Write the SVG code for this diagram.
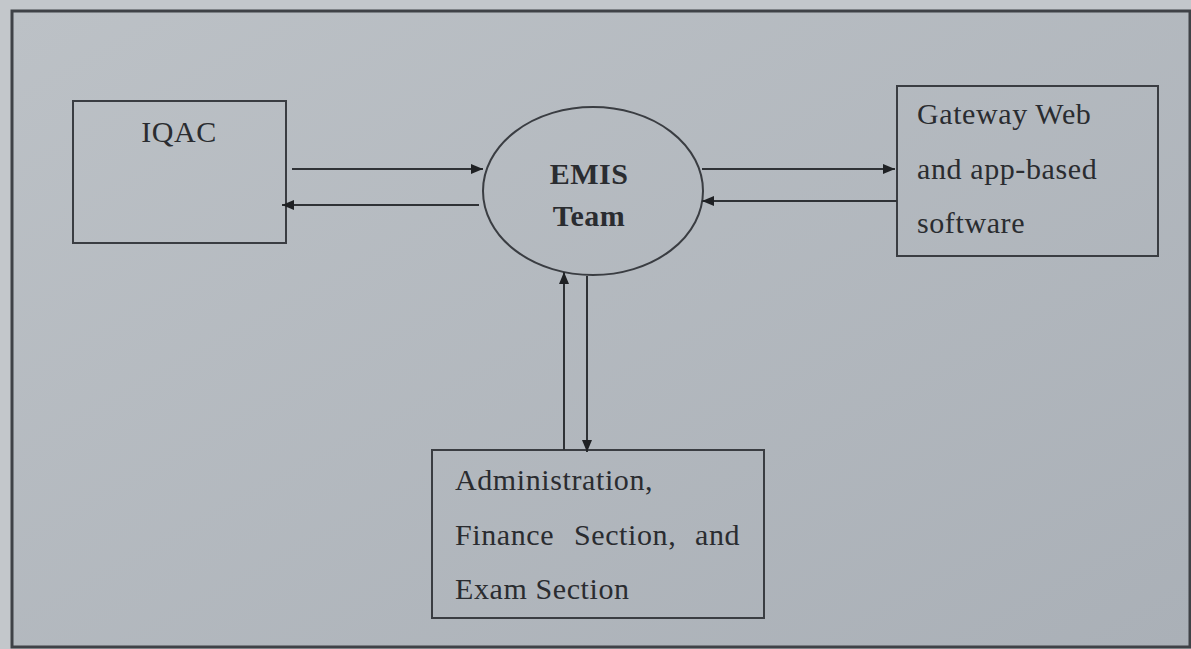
<svg xmlns="http://www.w3.org/2000/svg" width="1191" height="649" viewBox="0 0 1191 649">
<style>
.bx{fill:none;stroke:#3a3d42;stroke-width:2}
.ln{fill:none;stroke:#2f3236;stroke-width:2}
.t{font-family:"Liberation Serif","Times New Roman",serif;font-size:30px;fill:#2a2c30;letter-spacing:0.6px}
.b{font-weight:bold;font-size:30px;text-anchor:middle;letter-spacing:0.5px}
</style>
<defs>
<marker id="ah" viewBox="0 0 12 10" refX="12" refY="5" markerWidth="12" markerHeight="10" markerUnits="userSpaceOnUse" orient="auto"><path d="M0,0 L12,5 L0,10 z" fill="#1f2124"/></marker>
<linearGradient id="bg" x1="0" y1="0" x2="1" y2="1"><stop offset="0" stop-color="#bcc1c6"/><stop offset="1" stop-color="#aab0b7"/></linearGradient>
</defs>
<rect x="0" y="0" width="1191" height="649" fill="#c3c7cb"/>
<rect x="12" y="11" width="1178" height="636" fill="url(#bg)" stroke="#3f4247" stroke-width="3"/>
<g id="iqac">
<rect class="bx" x="73" y="101" width="213" height="142"/>
<text class="t" x="179" y="142" text-anchor="middle">IQAC</text>
</g>
<g id="emis">
<ellipse class="bx" cx="593" cy="191" rx="110" ry="84"/>
<text class="t b" x="589" y="184">EMIS</text>
<text class="t b" x="589" y="226">Team</text>
</g>
<g id="gateway">
<rect class="bx" x="897" y="86" width="261" height="170"/>
<text class="t" x="917" y="124">Gateway Web</text>
<text class="t" x="917" y="179">and app-based</text>
<text class="t" x="917" y="233">software</text>
</g>
<g id="admin">
<rect class="bx" x="432" y="450" width="332" height="168"/>
<text class="t" x="455" y="490">Administration,</text>
<text class="t" y="545"><tspan x="455">Finance</tspan><tspan x="574">Section,</tspan><tspan x="695">and</tspan></text>
<text class="t" x="455" y="599">Exam Section</text>
</g>
<g id="connectors">
<line class="ln" x1="292" y1="169" x2="483" y2="169" marker-end="url(#ah)"/>
<line class="ln" x1="479" y1="205" x2="282" y2="205" marker-end="url(#ah)"/>
<line class="ln" x1="702" y1="169" x2="895" y2="169" marker-end="url(#ah)"/>
<line class="ln" x1="897" y1="201" x2="702" y2="201" marker-end="url(#ah)"/>
<line class="ln" x1="564" y1="450" x2="564" y2="272" marker-end="url(#ah)"/>
<line class="ln" x1="587" y1="276" x2="587" y2="452" marker-end="url(#ah)"/>
</g>
</svg>
